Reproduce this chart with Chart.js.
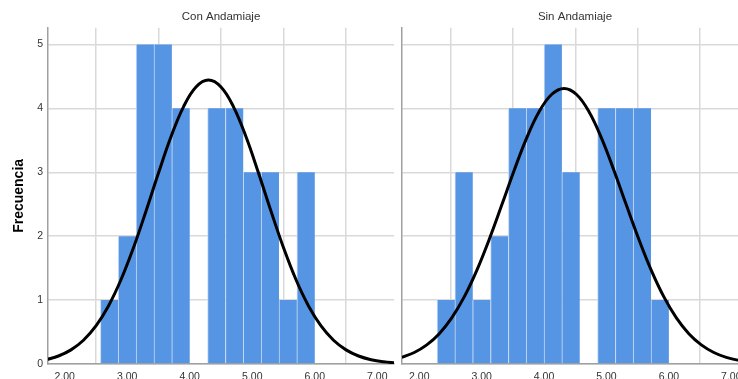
<!DOCTYPE html>
<html>
<head>
<meta charset="utf-8">
<script src="https://cdn.jsdelivr.net/npm/chart.js@4"></script>
<style>
  html, body { margin: 0; padding: 0; width: 738px; height: 379px; overflow: hidden; background: #fff; }
  #wrap { position: relative; width: 738px; height: 379px; overflow: hidden; }
  canvas { position: absolute; top: 0; }
  #c1 { left: 0; }
  #c2 { left: 396px; }
</style>
</head>
<body>
<div id="wrap">
  <canvas id="c1" width="398" height="379"></canvas>
  <canvas id="c2" width="352" height="379"></canvas>
</div>
<script>
// ---- data ----
const panelTitles = ['Con Andamiaje', 'Sin Andamiaje'];
const yAxisTitle = 'Frecuencia';
const xTickValues = [2, 3, 4, 5, 6, 7];
const xTickLabels = ['2.00', '3.00', '4.00', '5.00', '6.00', '7.00'];
const yTickValues = [0, 1, 2, 3, 4, 5];
const yTickLabels = ['0', '1', '2', '3', '4', '5'];

// histogram bins (centres) and counts
const binCentersCon = [2.7143, 3.0000, 3.2857, 3.5714, 3.8571, 4.1429, 4.4286, 4.7143, 5.0000, 5.2857, 5.5714, 5.8571];
const countsCon     = [1, 2, 5, 5, 4, 0, 4, 4, 3, 3, 1, 3];
const binCentersSin = [2.4286, 2.7143, 3.0000, 3.2857, 3.5714, 3.8571, 4.1429, 4.4286, 4.7143, 5.0000, 5.2857, 5.5714, 5.8571];
const countsSin     = [1, 3, 1, 2, 4, 4, 5, 3, 0, 4, 4, 4, 1];

const curveXCon = [1.7, 1.9, 2.1, 2.3, 2.5, 2.7, 2.9, 3.1, 3.3, 3.5, 3.7, 3.9, 4.1, 4.3, 4.5, 4.7, 4.9, 5.1, 5.3, 5.5, 5.7, 5.9, 6.1, 6.3, 6.5, 6.7, 6.9, 7.1, 7.3];
const curveYCon = [0.0672, 0.1249, 0.2210, 0.3720, 0.5958, 0.9085, 1.3178, 1.8191, 2.3899, 2.9875, 3.5541, 4.0231, 4.3338, 4.4426, 4.3338, 4.0231, 3.5541, 2.9875, 2.3899, 1.8191, 1.3178, 0.9085, 0.5958, 0.3720, 0.2210, 0.1249, 0.0672, 0.0344, 0.0168];
const curveXSin = [1.72, 1.92, 2.12, 2.32, 2.52, 2.72, 2.92, 3.12, 3.32, 3.52, 3.72, 3.92, 4.12, 4.32, 4.52, 4.72, 4.92, 5.12, 5.32, 5.52, 5.72, 5.92, 6.12, 6.32, 6.52, 6.72, 6.92, 7.12, 7.32];
const curveYSin = [0.1035, 0.1797, 0.2984, 0.4744, 0.7215, 1.0499, 1.4618, 1.9476, 2.4826, 3.0281, 3.5339, 3.9461, 4.2162, 4.3103, 4.2162, 3.9461, 3.5339, 3.0281, 2.4826, 1.9476, 1.4618, 1.0499, 0.7215, 0.4744, 0.2984, 0.1797, 0.1035, 0.0570, 0.0301];

// ---- styling ----
const FONT = "'Liberation Sans', Arial, sans-serif";
const TEXT = '#333333';
const GRID = '#d9d9d9';
const AXIS = '#a0a0a0';
const BAR = '#5695e4';
const BAR_EDGE = '#c2d8f4';

function pts(xs, ys) { return xs.map((x, i) => ({ x: x, y: ys[i] })); }

function makeChart(id, title, centers, counts, cx, cy, isLeft, xmin, xmax) {
  return new Chart(document.getElementById(id), {
    type: 'bar',
    data: {
      datasets: [
        {
          type: 'line',
          data: pts(cx, cy),
          borderColor: '#000',
          borderWidth: 3,
          pointRadius: 0,
          tension: 0.4,
          fill: false,
          clip: 0,
          order: 0
        },
        {
          type: 'bar',
          data: pts(centers, counts),
          backgroundColor: BAR,
          borderColor: BAR_EDGE,
          borderWidth: { left: 1, right: 0, top: 0, bottom: 0 },
          borderSkipped: false,
          barPercentage: 1.0,
          categoryPercentage: 1.0,
          order: 1
        }
      ]
    },
    options: {
      responsive: false,
      animation: false,
      devicePixelRatio: 1,
      layout: { padding: { left: 0, right: isLeft ? 4 : 0, top: 0, bottom: 0 } },
      plugins: {
        legend: { display: false },
        tooltip: { enabled: false },
        title: {
          display: true,
          text: title,
          fullSize: false,
          color: TEXT,
          font: { family: FONT, size: 11.5, weight: 'normal', lineHeight: 1.2 },
          padding: { top: 10, bottom: 4 }
        }
      },
      scales: {
        x: {
          type: 'linear',
          min: xmin,
          max: xmax,
          offset: false,
          ticks: {
            stepSize: 1,
            includeBounds: false,
            color: TEXT,
            font: { family: FONT, size: 10.5 },
            padding: 6.5,
            maxRotation: 0,
            autoSkip: false,
            callback: (v) => { const i = xTickValues.indexOf(v); return i >= 0 ? xTickLabels[i] : ''; }
          },
          grid: { color: GRID, lineWidth: 1.5, drawTicks: false },
          border: { color: AXIS, width: 1.5 },
          afterFit: (s) => { s.height = 15; }
        },
        y: {
          min: 0,
          max: 5.26,
          ticks: {
            stepSize: 1,
            includeBounds: false,
            display: isLeft,
            color: TEXT,
            font: { family: FONT, size: 10.5 },
            padding: 5,
            callback: (v) => { const i = yTickValues.indexOf(v); return i >= 0 ? yTickLabels[i] : ''; }
          },
          title: {
            display: isLeft,
            text: yAxisTitle,
            color: '#000',
            font: { family: FONT, size: 14, weight: 'bold', lineHeight: 1.2 },
            padding: { top: 10.8, bottom: 0 }
          },
          grid: { color: GRID, lineWidth: 1.5, drawTicks: false },
          border: { color: AXIS, width: 1.5 },
          afterFit: (s) => { s.width = isLeft ? 48 : 6; }
        }
      }
    }
  });
}

makeChart('c1', panelTitles[0], binCentersCon, countsCon, curveXCon, curveYCon, true, 1.733, 7.267);
makeChart('c2', panelTitles[1], binCentersSin, countsSin, curveXSin, curveYSin, false, 1.723, 7.267);
</script>
</body>
</html>
